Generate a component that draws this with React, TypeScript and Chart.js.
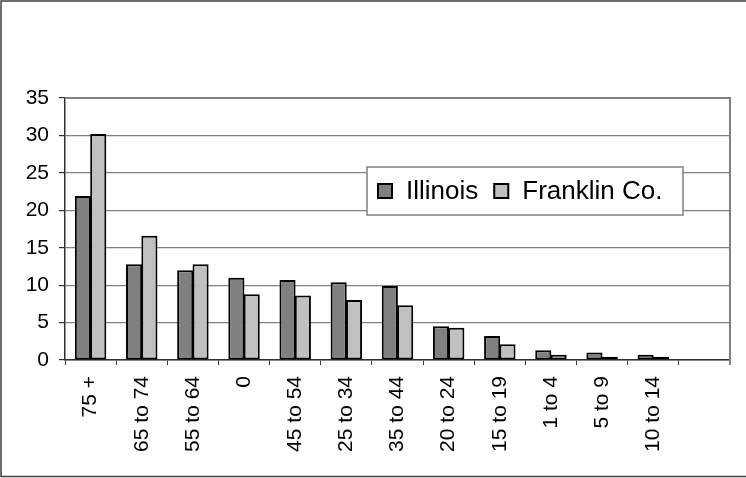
import React, { useEffect, useRef } from "react";
import { Chart, registerables } from "chart.js";

Chart.register(...registerables);

const categories = ["75 +", "65 to 74", "55 to 64", "0", "45 to 54", "25 to 34", "35 to 44", "20 to 24", "15 to 19", "1 to 4", "5 to 9", "10 to 14", ""];
const illinois = [21.9, 12.8, 12.0, 11.0, 10.7, 10.4, 9.9, 4.5, 3.2, 1.3, 1.0, 0.7, null];
const franklin = [30.2, 16.6, 12.8, 8.8, 8.6, 8.0, 7.3, 4.3, 2.1, 0.7, 0.45, 0.45, null];
const seriesNames = ["Illinois", "Franklin Co."];
const seriesColors = ["#808080", "#c0c0c0"];
const yMin = 0;
const yMax = 35;
const yStep = 5;

const FONT = "'Liberation Sans', Arial, sans-serif";

const framePlugin = {
  id: "frame",
  beforeDraw(chart: any) {
    const { ctx, width, height } = chart;
    ctx.save();
    ctx.fillStyle = "#ffffff";
    ctx.fillRect(0, 0, width, height);
    ctx.strokeStyle = "#404040";
    ctx.lineWidth = 1.5;
    ctx.beginPath();
    ctx.moveTo(width, 1);
    ctx.lineTo(1, 1);
    ctx.lineTo(1, height - 1.5);
    ctx.lineTo(width, height - 1.5);
    ctx.stroke();
    ctx.restore();
  },
  afterDatasetsDraw(chart: any) {
    const { ctx, chartArea } = chart;
    ctx.save();
    ctx.strokeStyle = "#808080";
    ctx.lineWidth = 2;
    ctx.beginPath();
    ctx.moveTo(chartArea.left, chartArea.top);
    ctx.lineTo(chartArea.right, chartArea.top);
    ctx.lineTo(chartArea.right, chartArea.bottom + 5);
    ctx.stroke();
    ctx.restore();
  },
  afterDraw(chart: any) {
    const { ctx, chartArea } = chart;
    const x0 = chartArea.left + 302;
    const y0 = chartArea.top + 69;
    const w = 316;
    const h = 48;
    ctx.save();
    ctx.fillStyle = "#ffffff";
    ctx.fillRect(x0, y0, w, h);
    ctx.strokeStyle = "#808080";
    ctx.lineWidth = 1.5;
    ctx.strokeRect(x0, y0, w, h);
    ctx.font = `26px ${FONT}`;
    ctx.textBaseline = "middle";
    ctx.textAlign = "left";
    let x = x0 + 10;
    const cy = y0 + h / 2;
    chart.data.datasets.forEach((ds: any) => {
      ctx.fillStyle = ds.backgroundColor;
      ctx.fillRect(x, cy - 8, 16, 16);
      ctx.strokeStyle = "#000";
      ctx.lineWidth = 2;
      ctx.strokeRect(x + 1, cy - 7, 14, 14);
      ctx.fillStyle = "#000";
      ctx.fillText(ds.label, x + 29, cy + 1);
      x += 29 + ctx.measureText(ds.label).width + 15;
    });
    ctx.restore();
  },
};

export default function App() {
  const ref = useRef<HTMLCanvasElement | null>(null);
  useEffect(() => {
    if (!ref.current) return;
    const chart = new Chart(ref.current, {
      type: "bar",
      data: {
        labels: categories,
        datasets: [
          {
            label: seriesNames[0],
            data: illinois,
            backgroundColor: seriesColors[0],
            borderColor: "#000",
            borderWidth: 2,
            borderSkipped: false,
            categoryPercentage: 0.6,
            barPercentage: 1.05,
          },
          {
            label: seriesNames[1],
            data: franklin,
            backgroundColor: seriesColors[1],
            borderColor: "#000",
            borderWidth: 2,
            borderSkipped: false,
            categoryPercentage: 0.6,
            barPercentage: 1.05,
          },
        ],
      } as any,
      options: {
        responsive: false,
        animation: false,
        devicePixelRatio: 1,
        layout: { padding: { left: 0, top: 98, right: 16, bottom: 0 } },
        plugins: {
          legend: { display: false },
          tooltip: { enabled: false },
        },
        scales: {
          x: {
            offset: true,
            grid: {
              offset: true,
              drawOnChartArea: false,
              drawTicks: true,
              tickLength: 5,
              tickColor: "#404040",
              color: "#404040",
            },
            border: { color: "#303030", width: 1.5 },
            ticks: {
              autoSkip: false,
              minRotation: 90,
              maxRotation: 90,
              padding: 11,
              color: "#000",
              font: { family: FONT, size: 21 },
            },
            afterFit(scale: any) {
              scale.height = 118;
            },
          },
          y: {
            min: yMin,
            max: yMax,
            ticks: {
              stepSize: yStep,
              padding: 10,
              color: "#000",
              font: { family: FONT, size: 21 },
            },
            grid: {
              color: "#808080",
              lineWidth: 1.2,
              tickLength: 6,
              tickColor: "#303030",
            },
            border: { color: "#303030", width: 1.5 },
            afterFit(scale: any) {
              scale.width = 65;
            },
          },
        },
      } as any,
      plugins: [framePlugin],
    });
    return () => chart.destroy();
  }, []);
  return (
    <div style={{ position: "absolute", left: 0, top: 0, width: 746, height: 478 }}>
      <canvas ref={ref} width={746} height={478} style={{ display: "block" }} />
    </div>
  );
}
